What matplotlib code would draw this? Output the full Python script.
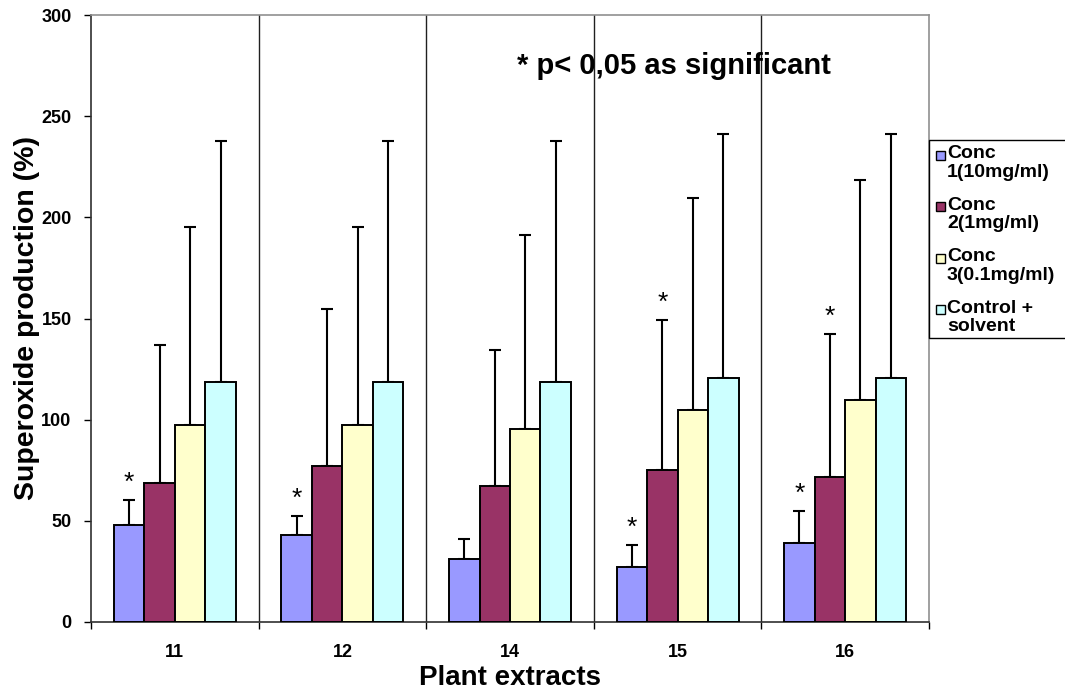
import matplotlib
matplotlib.use("Agg")
import matplotlib.pyplot as plt
from matplotlib.patches import Rectangle
import numpy as np

plt.rcParams['font.family'] = ['Liberation Sans', 'DejaVu Sans']

categories = ["11", "12", "14", "15", "16"]
series_names = ["Conc\n1(10mg/ml)", "Conc\n2(1mg/ml)", "Conc\n3(0.1mg/ml)", "Control +\nsolvent"]
colors = ["#9999FF", "#993366", "#FFFFCC", "#CCFFFF"]
conc1 = [48, 43, 31, 27, 39]
conc2 = [68.5, 77, 67, 75, 71.5]
conc3 = [97.5, 97.5, 95.5, 105, 109.5]
control = [118.5, 118.5, 118.5, 120.5, 120.5]
conc1_err = [12.5, 9.5, 10, 11, 16]
conc2_err = [68.5, 77.5, 67.5, 74.5, 71]
conc3_err = [97.5, 97.5, 96, 104.5, 109]
control_err = [119, 119, 119, 120.5, 120.5]
# significance markers: (series index, category index)
stars = [(0, 0), (0, 1), (0, 3), (0, 4), (1, 3), (1, 4)]

values = [conc1, conc2, conc3, control]
errors = [conc1_err, conc2_err, conc3_err, control_err]

W, H = 1065, 691
fig = plt.figure(figsize=(W/100, H/100), dpi=100)
ax = fig.add_axes([91/W, (H-622)/H, (929-91)/W, (622-15)/H])

def fx(px):
    return px / W

def fy(py):
    return 1 - py / H

n = len(categories)
x = np.arange(n)
w = 1/5.5
for i, (vals, errs) in enumerate(zip(values, errors)):
    pos = x + (i - 1.5) * w
    ax.bar(pos, vals, width=w, color=colors[i], edgecolor='black', linewidth=1.4, zorder=3)
    ax.errorbar(pos, vals, yerr=[np.zeros(n), errs], fmt='none', ecolor='black',
                elinewidth=1.5, capsize=4, capthick=1.5, zorder=2)

for si, ci in stars:
    pos = x[ci] + (si - 1.5) * w
    top = values[si][ci] + errors[si][ci]
    ax.text(pos, top + 2.5, "*", ha='center', va='bottom', fontsize=19, zorder=4)

ax.set_xlim(-0.5, n - 0.5)
ax.set_ylim(0, 300)
for b in np.arange(0.5, n - 0.5, 1):
    ax.axvline(b, color='#202020', linewidth=1.0, zorder=1)

ax.set_xticks(np.arange(-0.5, n, 1))
ax.set_xticklabels([])
ax.set_xticks(x, minor=True)
ax.set_xticklabels(categories, minor=True, fontsize=13, fontweight='bold')
ax.tick_params(axis='x', which='major', direction='out', length=5, width=1)
ax.tick_params(axis='x', which='minor', length=0, pad=16)
ax.set_yticks(np.arange(0, 301, 50))
ax.set_yticklabels([str(v) for v in range(0, 301, 50)], fontsize=13, fontweight='bold')
ax.tick_params(axis='y', direction='out', length=5, width=1, pad=9)

for s in ['top', 'right']:
    ax.spines[s].set_color('#909090')
    ax.spines[s].set_linewidth(1.2)
for s in ['left', 'bottom']:
    ax.spines[s].set_color('#303030')
    ax.spines[s].set_linewidth(1.2)

ax.set_ylabel("Superoxide production (%)", fontsize=20.5, fontweight='bold', labelpad=1)
ax.set_xlabel("Plant extracts", fontsize=20, fontweight='bold', labelpad=3)

fig.text(fx(674), fy(66), "* p< 0,05 as significant", fontsize=21, fontweight='bold',
         ha='center', va='center')

# legend (drawn manually to match the layout)
fig.patches.append(Rectangle((fx(929), fy(338)), fx(1080) - fx(929), fy(140) - fy(338),
                             transform=fig.transFigure, facecolor='white',
                             edgecolor='black', linewidth=1.0, zorder=5))
for i, name in enumerate(series_names):
    y0 = 155 + i * 51.5
    fig.patches.append(Rectangle((fx(936), fy(y0 + 4.5)), fx(9), 9 / H,
                                 transform=fig.transFigure, facecolor=colors[i],
                                 edgecolor='black', linewidth=1.0, zorder=6))
    fig.text(fx(947), fy(y0 - 9.5), name, fontsize=14, fontweight='bold',
             ha='left', va='top', linespacing=1.1, zorder=6)

fig.savefig("out.png", dpi=100)
